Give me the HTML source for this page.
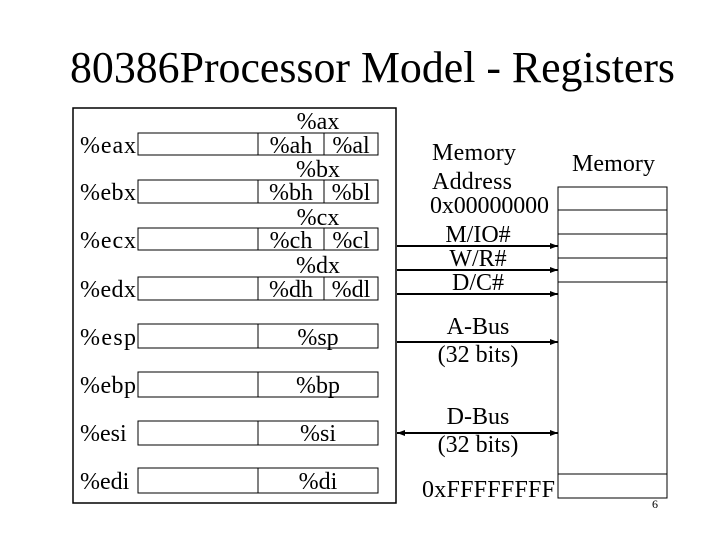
<!DOCTYPE html>
<html><head><meta charset="utf-8"><style>
html,body{margin:0;padding:0;background:#fff;}
svg{display:block;}
text{font-family:"Liberation Serif",serif;fill:#000;}
</style></head><body>
<svg width="720" height="540" viewBox="0 0 720 540" xmlns="http://www.w3.org/2000/svg">
<defs>
<marker id="ah" markerWidth="8" markerHeight="6" refX="8" refY="3" orient="auto" markerUnits="userSpaceOnUse"><path d="M0,0 L8,3 L0,6 z" fill="#000"/></marker>
<marker id="as" markerWidth="8" markerHeight="6" refX="0" refY="3" orient="auto" markerUnits="userSpaceOnUse"><path d="M8,0 L0,3 L8,6 z" fill="#000"/></marker>
</defs>
<text x="70" y="82" font-size="44" textLength="605" lengthAdjust="spacingAndGlyphs">80386Processor Model - Registers</text>
<rect x="73" y="108" width="323" height="395" fill="none" stroke="#000" stroke-width="1.5"/>
<g fill="none" stroke="#000" stroke-width="1">
<rect x="138" y="133" width="240" height="22"/><line x1="258" y1="133" x2="258" y2="155"/><line x1="324" y1="133" x2="324" y2="155"/>
<rect x="138" y="180" width="240" height="23"/><line x1="258" y1="180" x2="258" y2="203"/><line x1="324" y1="180" x2="324" y2="203"/>
<rect x="138" y="228" width="240" height="22"/><line x1="258" y1="228" x2="258" y2="250"/><line x1="324" y1="228" x2="324" y2="250"/>
<rect x="138" y="277" width="240" height="23"/><line x1="258" y1="277" x2="258" y2="300"/><line x1="324" y1="277" x2="324" y2="300"/>
<rect x="138" y="324" width="240" height="24"/><line x1="258" y1="324" x2="258" y2="348"/>
<rect x="138" y="372" width="240" height="25"/><line x1="258" y1="372" x2="258" y2="397"/>
<rect x="138" y="421" width="240" height="24"/><line x1="258" y1="421" x2="258" y2="445"/>
<rect x="138" y="468" width="240" height="25"/><line x1="258" y1="468" x2="258" y2="493"/>
<rect x="558" y="187" width="109" height="311"/>
<line x1="558" y1="210" x2="667" y2="210"/><line x1="558" y1="234" x2="667" y2="234"/>
<line x1="558" y1="258" x2="667" y2="258"/><line x1="558" y1="282" x2="667" y2="282"/>
<line x1="558" y1="474" x2="667" y2="474"/>
</g>
<g font-size="24">
<text x="80" y="153" textLength="56">%eax</text><text x="80" y="200" textLength="56">%ebx</text><text x="80" y="248" textLength="56">%ecx</text><text x="80" y="297" textLength="56">%edx</text>
<text x="80" y="345" textLength="56">%esp</text><text x="80" y="393" textLength="56">%ebp</text><text x="80" y="441">%esi</text><text x="80" y="489">%edi</text>
<g text-anchor="middle">
<text x="318" y="129">%ax</text><text x="291" y="153">%ah</text><text x="351" y="153">%al</text>
<text x="318" y="177">%bx</text><text x="291" y="200">%bh</text><text x="351" y="200">%bl</text>
<text x="318" y="225">%cx</text><text x="291" y="248">%ch</text><text x="351" y="248">%cl</text>
<text x="318" y="273">%dx</text><text x="291" y="297">%dh</text><text x="351" y="297">%dl</text>
<text x="318" y="345">%sp</text><text x="318" y="393">%bp</text><text x="318" y="441">%si</text><text x="318" y="489">%di</text>
<text x="478" y="242">M/IO#</text><text x="478" y="266">W/R#</text><text x="478" y="290">D/C#</text>
<text x="478" y="334">A-Bus</text><text x="478" y="362">(32 bits)</text>
<text x="478" y="424">D-Bus</text><text x="478" y="452">(32 bits)</text>
</g>
<text x="432" y="160" textLength="84">Memory</text><text x="572" y="171" textLength="83">Memory</text>
<text x="432" y="189" textLength="80">Address</text><text x="430" y="213" textLength="119">0x00000000</text>
<text x="422" y="497" textLength="133">0xFFFFFFFF</text>
</g>
<g stroke="#000" stroke-width="2">
<line x1="397" y1="246" x2="558" y2="246" marker-end="url(#ah)"/>
<line x1="397" y1="270" x2="558" y2="270" marker-end="url(#ah)"/>
<line x1="397" y1="294" x2="558" y2="294" marker-end="url(#ah)"/>
<line x1="397" y1="342" x2="558" y2="342" marker-end="url(#ah)"/>
<line x1="397" y1="433" x2="558" y2="433" marker-end="url(#ah)" marker-start="url(#as)"/>
</g>
<text x="652" y="508" font-size="12">6</text>
</svg>
</body></html>
